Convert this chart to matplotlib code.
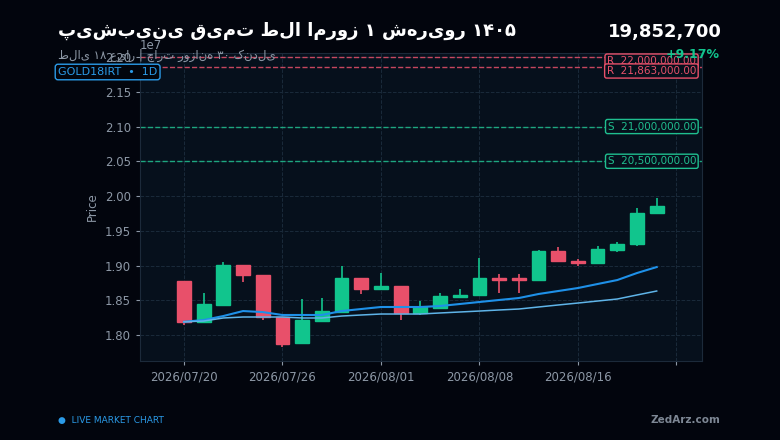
import matplotlib.pyplot as plt
import numpy as np

plt.rcParams['font.family'] = ['DejaVu Sans']

# candle data (rial)
opens = [1.8777, 1.8187, 1.843, 1.9007, 1.886, 1.826, 1.788, 1.820, 1.833, 1.882, 1.866, 1.870,
         1.832, 1.839, 1.855, 1.858, 1.881, 1.881, 1.879, 1.921, 1.906, 1.904, 1.922, 1.931, 1.976]
closes = [1.8187, 1.8446, 1.9007, 1.8863, 1.826, 1.787, 1.822, 1.835, 1.882, 1.866, 1.870, 1.832,
          1.840, 1.856, 1.857, 1.882, 1.880, 1.880, 1.921, 1.907, 1.903, 1.924, 1.931, 1.976, 1.986]
highs = [1.8777, 1.860, 1.905, 1.9007, 1.886, 1.826, 1.852, 1.853, 1.899, 1.882, 1.889, 1.870,
         1.849, 1.860, 1.866, 1.911, 1.888, 1.888, 1.922, 1.927, 1.909, 1.928, 1.934, 1.983, 1.997]
lows = [1.8144, 1.818, 1.843, 1.876, 1.821, 1.783, 1.788, 1.820, 1.833, 1.859, 1.866, 1.822,
        1.829, 1.839, 1.855, 1.858, 1.860, 1.860, 1.879, 1.907, 1.899, 1.904, 1.920, 1.928, 1.976]
ma_fast = [1.819, 1.8216, 1.8273, 1.8345, 1.833, 1.8288, 1.8288, 1.8288, 1.8345, 1.8374, 1.8403,
           1.8403, 1.8403, 1.8417, 1.8446, 1.8475, 1.8504, 1.8532, 1.859, 1.8633, 1.8676, 1.8734,
           1.8791, 1.8892, 1.8978]
ma_slow = [1.819, 1.8201, 1.8245, 1.8259, 1.8259, 1.8259, 1.8245, 1.8245, 1.8273, 1.8288, 1.8302,
           1.8302, 1.8302, 1.8317, 1.8331, 1.8345, 1.836, 1.8374, 1.8403, 1.8432, 1.8460, 1.8489,
           1.8518, 1.8576, 1.8633]
tick_labels = ['2026/07/20', '2026/07/26', '2026/08/01', '2026/08/08', '2026/08/16', '']
levels = [(2.2e7, 'R  22,000,000.00', '#e8506a'), (2.1863e7, 'R  21,863,000.00', '#e8506a'),
          (2.1e7, 'S  21,000,000.00', '#1fbf8f'), (2.05e7, 'S  20,500,000.00', '#1fbf8f')]
label_nudge = [-0.0058e7, -0.0064e7, 0.0, 0.0]

scale = 1e7
up, down = '#11c58d', '#e8506a'
bg = '#02050d'

fig = plt.figure(figsize=(7.8, 4.4), dpi=100, facecolor=bg)
ax = fig.add_axes([140/780, 1-361/440, 562/780, 308/440])
ax.set_facecolor('#06101c')

x = np.arange(len(opens))
for i in x:
    o, c, h, l = opens[i]*scale, closes[i]*scale, highs[i]*scale, lows[i]*scale
    col = up if c >= o else down
    ax.vlines(i, l, h, color=col, lw=1.2, zorder=3)
    hgt = max(abs(c - o), 0.003*scale)
    ax.bar(i, hgt, bottom=min(o, c) if abs(c-o) > 0.003*scale else (o+c)/2 - hgt/2,
           width=0.7, color=col, edgecolor=col, zorder=4)
ax.plot(x, np.array(ma_fast)*scale, color='#1e90e8', lw=1.5, zorder=5)
ax.plot(x, np.array(ma_slow)*scale, color='#5fb4e8', lw=1.1, zorder=5)

for (val, txt, col), dy in zip(levels, label_nudge):
    ax.axhline(val, color=col, ls='--', lw=1, alpha=0.85, zorder=2)
    ax.text(26.0, val + dy, txt, color=col, fontsize=7.5, ha='right', va='center', zorder=6,
            bbox=dict(boxstyle='round,pad=0.2', fc='#06101c', ec=col, lw=1))

ax.set_xlim(-2.23, 26.3)
ax.set_ylim(1.7626*scale, 2.2058*scale)
ax.set_xticks([0, 5, 10, 15, 20, 25])
ax.set_xticklabels(tick_labels)
ax.set_yticks(np.arange(1.80, 2.21, 0.05)*scale)
ax.grid(True, color='#1a2a3a', ls='--', lw=0.7)
ax.tick_params(colors='#8d98a6', labelsize=8.5, length=3)
ax.yaxis.get_offset_text().set_color('#8d98a6')
ax.yaxis.get_offset_text().set_fontsize(8.5)
for s in ax.spines.values():
    s.set_color('#1c2a3a')
ax.set_ylabel('Price', color='#8d98a6', fontsize=8.5)

fig.text(58/780, 1-31/440, 'پیش‌بینی قیمت طلا امروز ۱ شهریور ۱۴۰۵', color='white',
         fontsize=13, fontweight='bold', va='center')
fig.text(58/780, 1-55/440, 'طلای ۱۸ عیار | چارت روزانه ۳۰ کندلی', color='#8d98a6',
         fontsize=8.5, va='center')
fig.text(722/780, 1-32/440, '19,852,700', color='white', fontsize=13, fontweight='bold',
         ha='right', va='center')
fig.text(720/780, 1-54/440, '+9.17%', color=up, fontsize=9, fontweight='bold', ha='right', va='center')
fig.text(58/780, 1-72/440, 'GOLD18IRT  •  1D', color='#2b9be8', fontsize=8, va='center',
         bbox=dict(boxstyle='round,pad=0.25', fc=bg, ec='#2b9be8', lw=1))
fig.text(58/780, 1-420/440, '●  LIVE MARKET CHART', color='#2b9be8', fontsize=6.5, va='center')
fig.text(720/780, 1-420/440, 'ZedArz.com', color='#7d8794', fontsize=7.5, fontweight='bold',
         ha='right', va='center')

fig.savefig('out.png', dpi=100, facecolor=bg)
